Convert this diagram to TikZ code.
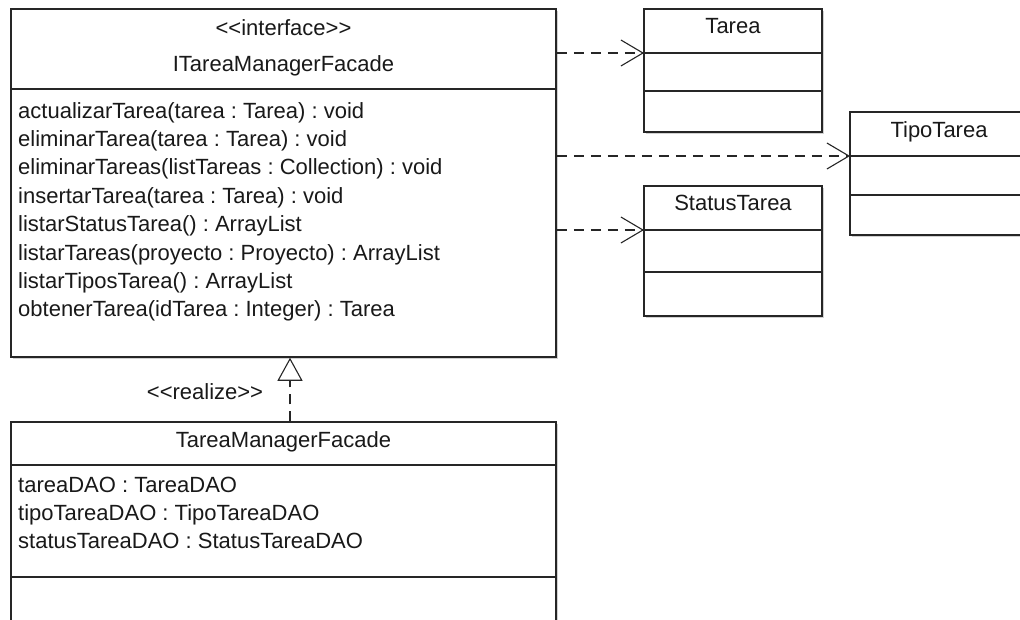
\documentclass[tikz,border=0pt]{standalone}
\usepackage{fontspec}
\setmainfont{Liberation Sans}
\usetikzlibrary{arrows.meta,shadows}
\newcommand\umlfont{\fontsize{22}{26}\selectfont\frenchspacing}
\tikzset{
    umlbox/.style={draw=black!85,line width=1.5pt,fill=white,inner sep=0pt,
        drop shadow={shadow xshift=2pt,shadow yshift=-2pt,fill=black!18,opacity=1}},
    umltext/.style={inner sep=0pt,font=\umlfont,text=black!90},
    member/.style={umltext,anchor=base west},
    title/.style={umltext,anchor=base},
    depend/.style={draw=black!85,line width=1.3pt,dash pattern=on 10pt off 7pt,
        -{Straight Barb[length=22pt,width=26pt,line width=1.1pt]}},
    realize/.style={draw=black!85,line width=1.3pt,dash pattern=on 10pt off 7pt,
        -{Triangle[length=23pt,width=25pt,line width=1.1pt,fill=white]}}
}
\begin{document}
\begin{tikzpicture}[x=1pt,y=-1pt]
        \clip (0,0) rectangle (1020,619);
        \fill[white] (0,0) rectangle (1020,619);
        % interface
        \node[umlbox,minimum width=545pt,minimum height=348pt] (iface) at (283.5,183) {};
        \coordinate (ifacediv) at (11,89);
        \draw[line width=1.5pt,black!85] (ifacediv) -- (ifacediv -| iface.east);
        \node[title] (ifacestereo) at (283.5,35) {<\kern0pt<interface>\kern0pt>};
        \node[title] (ifacename) at (283.5,71) {ITareaManagerFacade};
        \node[member] (op1) at (18,118) {actualizarTarea(tarea : Tarea) : void};
        \node[member] (op2) at (18,146.4) {eliminarTarea(tarea : Tarea) : void};
        \node[member] (op3) at (18,174.8) {eliminarTareas(listTareas : Collection) : void};
        \node[member] (op4) at (18,203.2) {insertarTarea(tarea : Tarea) : void};
        \node[member] (op5) at (18,231.6) {listarStatusTarea() : ArrayList};
        \node[member] (op6) at (18,260) {listarTareas(proyecto : Proyecto) : ArrayList};
        \node[member] (op7) at (18,288.4) {listarTiposTarea() : ArrayList};
        \node[member] (op8) at (18,316.8) {obtenerTarea(idTarea : Integer) : Tarea};
        % Tarea
        \node[umlbox,minimum width=178pt,minimum height=123pt] (tarea) at (733,70.5) {};
        \coordinate (tareadiv) at (644,53);
        \draw[line width=1.5pt,black!85] (tareadiv) -- (tareadiv -| tarea.east);
        \draw[line width=1.5pt,black!85] (644,91) -- (822,91);
        \node[title] (tareaname) at (733,33) {Tarea};
        % TipoTarea
        \node[umlbox,minimum width=178pt,minimum height=123pt] (tipo) at (939,173.5) {};
        \coordinate (tipodiv) at (850,156);
        \draw[line width=1.5pt,black!85] (tipodiv) -- (tipodiv -| tipo.east);
        \draw[line width=1.5pt,black!85] (850,195) -- (1028,195);
        \node[title] (tiponame) at (939,137) {TipoTarea};
        % StatusTarea
        \node[umlbox,minimum width=178pt,minimum height=130pt] (status) at (733,251) {};
        \coordinate (statusdiv) at (644,230);
        \draw[line width=1.5pt,black!85] (statusdiv) -- (statusdiv -| status.east);
        \draw[line width=1.5pt,black!85] (644,272) -- (822,272);
        \node[title] (statusname) at (733,210) {StatusTarea};
        % implementation
        \node[umlbox,minimum width=545pt,minimum height=258pt] (impl) at (283.5,551) {};
        \coordinate (impldiv) at (11,465);
        \draw[line width=1.5pt,black!85] (impldiv) -- (impldiv -| impl.east);
        \draw[line width=1.5pt,black!85] (11,577) -- (556,577);
        \node[title] (implname) at (283.5,447) {TareaManagerFacade};
        \node[member] (attr1) at (18,492) {tareaDAO : TareaDAO};
        \node[member] (attr2) at (18,520) {tipoTareaDAO : TipoTareaDAO};
        \node[member] (attr3) at (18,548) {statusTareaDAO : StatusTareaDAO};
        % dependencies
        \draw[depend] (iface.east |- tareadiv) -- (tareadiv);
        \draw[depend] (iface.east |- tipodiv) -- (tipodiv);
        \draw[depend] (iface.east |- statusdiv) -- (statusdiv);
        % realization
        \coordinate (realx) at (290,0);
        \draw[realize] (impl.north -| realx) -- (iface.south -| realx);
        \node[umltext] (realizelabel) at (205,392) {<\kern0pt<realize>\kern0pt>};
    \end{tikzpicture}
\end{document}
